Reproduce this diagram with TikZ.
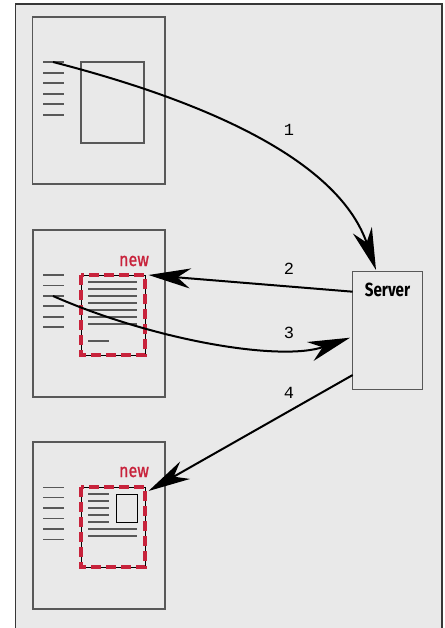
\documentclass[tikz,border=0pt]{standalone}
\usepackage{fontspec}
\usepackage{graphicx}
\setmainfont{Fira Sans}
\newfontfamily\digitfont{Liberation Mono}
\newfontfamily\tagfont[FakeBold=1.3]{Fira Sans}
\usetikzlibrary{arrows.meta}
\definecolor{bgfill}{RGB}{233,233,233}
\definecolor{framecol}{RGB}{55,55,55}
\definecolor{pagecol}{RGB}{88,88,88}
\definecolor{newred}{RGB}{200,35,60}
\tikzset{
  pagebox/.style={draw=pagecol, line width=1.3pt, inner sep=0pt, outer sep=0pt,
    anchor=north west, minimum width=132pt, minimum height=167pt},
  innerbox/.style={draw=pagecol, line width=1.2pt, inner sep=0pt, outer sep=0pt,
    anchor=north west},
  newbox/.style={draw=black, line width=1pt, inner sep=0pt, outer sep=0pt,
    anchor=north west, minimum width=64pt, minimum height=80pt},
  reddash/.style={draw=newred, line width=3.2pt, dash pattern=on 10pt off 5pt},
  txtline/.style={draw=pagecol, line width=1.3pt},
  flow/.style={draw=black, line width=2pt,
    -{Stealth[length=42pt,width=20pt,inset=13pt]}},
  steplabel/.style={font=\digitfont\fontsize{17}{20}\selectfont, inner sep=0pt},
  newlabel/.style={text=newred, inner sep=0pt,
    font=\tagfont\fontsize{19}{22}\selectfont},
}
\begin{document}
\begin{tikzpicture}[x=1pt,y=-1pt]
\useasboundingbox (0,0) rectangle (444,628);
\fill[white] (0,0) rectangle (444,628);
\clip (0,0) rectangle (444,628);

% outer panel, open at the bottom
\fill[bgfill] (15.5,4) rectangle (442,640);
\draw[framecol, line width=1.5pt] (15.5,640) -- (15.5,4) -- (442,4) -- (442,640);

% page 1
\node[pagebox, minimum width=132.5pt] (p1) at (32.5,17) {};
\node[innerbox, minimum width=63pt, minimum height=81pt] (img1) at (81,62) {};
\foreach \yy in {62,73,83,94,104,115} \draw[txtline] (43,\yy) -- (64,\yy);

% page 2
\node[pagebox] (p2) at (33,230) {};
\foreach \yy in {275,285.3,296,306,317,327} \draw[txtline] (43,\yy) -- (64,\yy);
\node[newbox] (r2) at (81,275) {};
\foreach \yy in {282,289,296,303,310,317,324} \draw[txtline] (88,\yy) -- (137,\yy);
\draw[txtline] (88,341) -- (109,341);
\draw[reddash] (r2.north west) rectangle (r2.south east);
\node[newlabel] (n2) at (134,261) {\scalebox{0.85}[1]{new}};

% page 3
\node[pagebox] (p3) at (33,442) {};
\foreach \yy in {487.3,497.7,508,518.7,529,539.3} \draw[txtline] (43,\yy) -- (64,\yy);
\node[newbox] (r3) at (81,487) {};
\foreach \yy in {494,501,508,515,522} \draw[txtline] (88,\yy) -- (109,\yy);
\foreach \yy in {529,536} \draw[txtline] (88,\yy) -- (137,\yy);
\node[innerbox, draw=black, line width=1pt, minimum width=21pt, minimum height=28pt] (img3) at (116.3,494) {};
\draw[reddash] (r3.north west) rectangle (r3.south east);
\node[newlabel] (n3) at (134,472) {\scalebox{0.85}[1]{new}};

% server
\node[draw=pagecol, line width=1.3pt, inner sep=0pt, outer sep=0pt, anchor=north west,
  minimum width=69.6pt, minimum height=117.6pt] (srv) at (352.7,271.7) {};
\node[inner sep=0pt, font=\bfseries\fontsize{19}{22}\selectfont] (srvlabel) at (387.5,290)
  {\scalebox{0.8}[1]{Server}};

% connector end points
\coordinate (s1) at (53,62);
\coordinate (e1) at (376,270);
\coordinate (s2) at ([yshift=-20pt]srv.north west);
\coordinate (e2) at ([xshift=3.5pt]r2.north east);
\coordinate (s3) at (53,296);
\coordinate (e3) at ([xshift=-2.7pt,yshift=-66pt]srv.north west);
\coordinate (s4) at ([yshift=-103.3pt]srv.north west);
\coordinate (e4) at ([xshift=3.5pt,yshift=-4pt]r3.north east);

% request / response flow
\draw[flow] (s1) .. controls (220,105) and (340,165) .. (e1);
\draw[flow] (s2) -- (e2);
\draw[flow] (s3) .. controls (153,340) and (280,362) .. (e3);
\draw[flow] (s4) -- (e4);

\node[steplabel] (l1) at (289,130) {1};
\node[steplabel] (l2) at (289,269) {2};
\node[steplabel] (l3) at (289,333) {3};
\node[steplabel] (l4) at (289,393) {4};
\end{tikzpicture}
\end{document}
